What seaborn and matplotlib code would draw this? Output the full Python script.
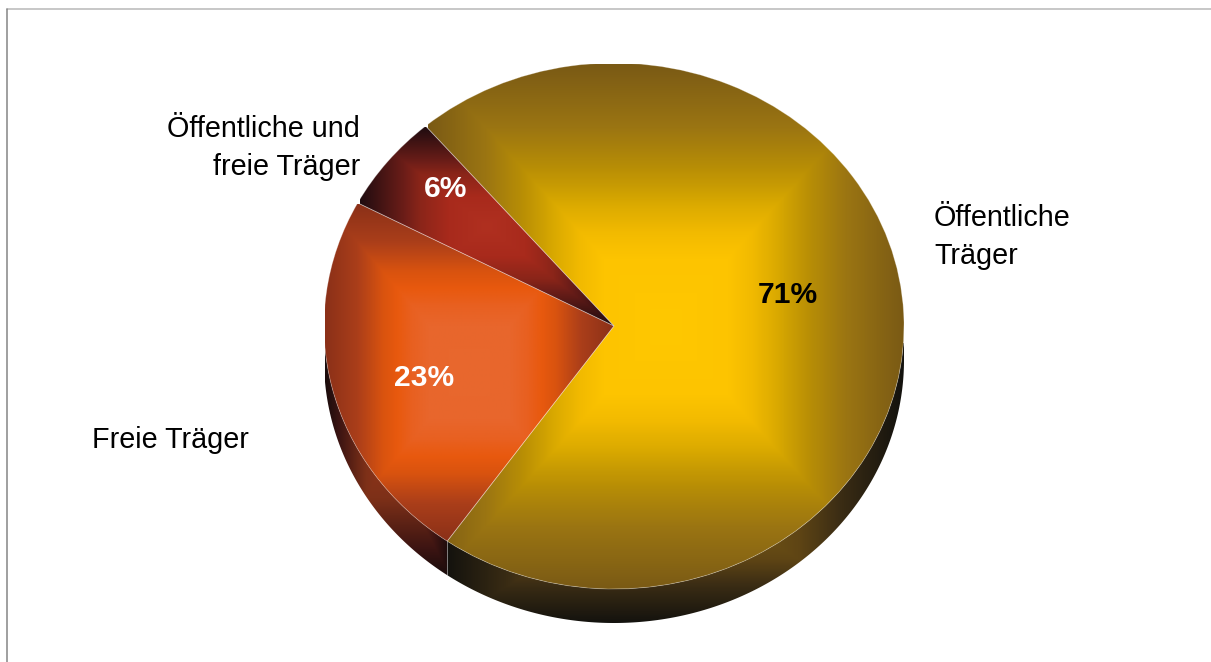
import numpy as np
import matplotlib
matplotlib.use("Agg")
import matplotlib.pyplot as plt
from matplotlib.lines import Line2D
from matplotlib.patches import Polygon
import seaborn as sns

labels = ["Öffentliche\nTräger", "Freie Träger", "Öffentliche und\nfreie Träger"]
values = [71, 23, 6]

W, H = 1211, 662
CX, CY, RX, RY, DEPTH = 614, 326, 290, 263, 34

top_stops = [
    [(0.0, "#ffc800"), (0.26, "#fdc400"), (0.36, "#f2ba00"), (0.46, "#dcab00"), (0.6, "#b98f05"), (0.76, "#9b7512"), (1.0, "#7a5a15")],
    [(0.0, "#e8682e"), (0.28, "#e8662c"), (0.4, "#e86020"), (0.5, "#e8590e"), (0.6, "#d9530f"), (0.78, "#aa3e1a"), (1.0, "#8b3018")],
    [(0.0, "#b03020"), (0.3, "#a82a1c"), (0.53, "#8a2519"), (0.66, "#6b1d18"), (1.0, "#200c10")],
]
side_stops = [
    [(0.0, "#8a6814"), (0.54, "#5f4515"), (0.73, "#3a2c14"), (1.0, "#13120e")],
    [(0.0, "#8f3519"), (0.35, "#7d3018"), (0.78, "#3c1412"), (1.0, "#1a0c0c")],
]
top_boxes = [(428, 64, 904, 590), (325, 204, 614, 541), (360, 127, 614, 326)]
side_boxes = [(446, 343, 904, 624), (325, 340, 450, 575)]

sns.set_theme(style="white")
plt.rcParams["font.family"] = ["Liberation Sans", "DejaVu Sans"]


def dx(px):
    return (px - CX) / RX


def dy(py):
    return (CY - py) / RY


def make_cmap(stops):
    n = 256
    positions = np.linspace(0, 1, n)
    rgb = np.array([matplotlib.colors.to_rgb(c) for _, c in stops])
    at = [p for p, _ in stops]
    table = np.column_stack([np.interp(positions, at, rgb[:, i]) for i in range(3)])
    return sns.blend_palette([tuple(c) for c in table], n_colors=n, as_cmap=True)


def rect_gradient(ax, box, stops, clip, zorder):
    x0, y0, x1, y1 = box
    xs = np.arange(x0, x1 + 1)
    ys = np.arange(y0, y1 + 1)
    xx, yy = np.meshgrid(xs, ys)
    hw = max((x1 - x0) / 2, 1)
    hh = max((y1 - y0) / 2, 1)
    t = np.maximum(np.abs(xx - (x0 + x1) / 2) / hw, np.abs(yy - (y0 + y1) / 2) / hh)
    im = ax.imshow(t, cmap=make_cmap(stops), vmin=0, vmax=1, origin="upper",
                   extent=(dx(x0), dx(x1), dy(y1), dy(y0)), aspect="auto",
                   interpolation="bilinear", zorder=zorder)
    im.set_clip_path(clip)
    return im


fig = plt.figure(figsize=(W / 100, H / 100), dpi=100, facecolor="white")
ax = fig.add_axes([0, 0, 1, 1])
wedges, texts, autotexts = ax.pie(
    values, labels=labels, autopct="%d%%", startangle=130.5, counterclock=False,
    wedgeprops=dict(facecolor="none", edgecolor=(1, 1, 1, 0.3), linewidth=0.6),
)
ax.set_aspect("auto")

depth = DEPTH / RY
for i, w in enumerate(wedges):
    w.set_zorder(3)
    rect_gradient(ax, top_boxes[i], top_stops[i], w, 2)
    if i >= len(side_boxes):
        continue
    ang = np.radians(np.linspace(w.theta1, w.theta2, 500))
    ang = ang[np.sin(ang) <= 0]
    if ang.size < 2:
        continue
    ax_x, ax_y = np.cos(ang), np.sin(ang)
    pts = np.vstack([np.column_stack([ax_x, ax_y]),
                     np.column_stack([ax_x, ax_y - depth])[::-1]])
    side = Polygon(pts, closed=True, facecolor="none", edgecolor="none",
                   transform=ax.transData, zorder=0.5)
    ax.add_patch(side)
    rect_gradient(ax, side_boxes[i], side_stops[i], side, 1)

# pale seam between the two visible side walls
seam = np.radians(wedges[0].theta1)
ax.plot([np.cos(seam)] * 2, [np.sin(seam), np.sin(seam) - depth],
        color=(1, 1, 1, 0.4), lw=0.6, zorder=1.5)

ax.set_xlim(dx(0), dx(W))
ax.set_ylim(dy(H), dy(0))
ax.set_axis_off()

label_pos = [(934, 237, "left"), (92, 440, "left"), (360, 148, "right")]
for t, (x, y, ha) in zip(texts, label_pos):
    t.set_position((dx(x), dy(y)))
    t.set(ha=ha, va="center", fontsize=20.7, color="black", linespacing=1.42,
          multialignment=ha, zorder=5)

pct_pos = [(788, 295, "black"), (424, 378, "white"), (446, 189, "white")]
for t, (x, y, c) in zip(autotexts, pct_pos):
    t.set_position((dx(x), dy(y)))
    t.set(ha="center", va="center", fontsize=21.6, fontweight="bold", color=c, zorder=5)

fig.add_artist(Line2D([7 / W, 1], [1 - 9 / H, 1 - 9 / H], color="#b8b8b8", lw=1.1))
fig.add_artist(Line2D([7 / W, 7 / W], [1 - 9 / H, 0], color="#858585", lw=1.1))

fig.savefig("out.png", dpi=100, facecolor="white")
